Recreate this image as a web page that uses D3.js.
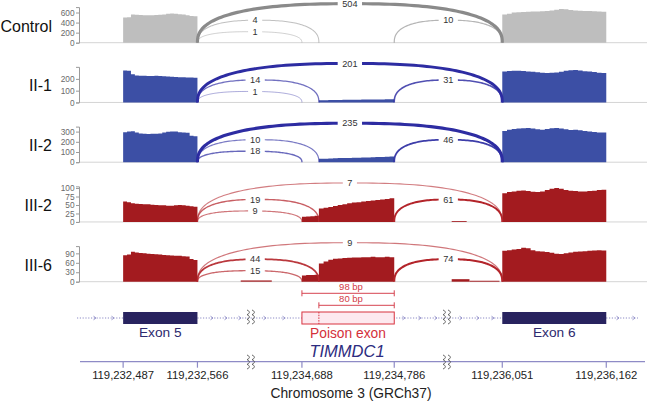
<!DOCTYPE html>
<html><head><meta charset="utf-8">
<script src="https://cdn.jsdelivr.net/npm/d3@7"></script>
<style>body{margin:0;background:#fff}svg{display:block;font-family:"Liberation Sans",Arial,sans-serif}</style>
</head><body><svg id="c" width="647" height="402"></svg>
<script>
// ---------------- data ----------------
const samples = ["Control", "II-1", "II-2", "III-2", "III-6"];
const groups = ["ctrl", "II", "II", "III", "III"];
const yMax = [708, 302, 349, 105, 113];
const yTicks = [[0,200,400,600],[0,100,200],[0,100,200,300],[0,25,50,75,100],[0,30,60,90]];

const exon5 = [119232487, 119232566];
const poison = [119234688, 119234786];
const poisonAlt = 119234706;
const exon6 = [119236051, 119236162];
const axisTicks = [119232487, 119232566, 119234688, 119234786, 119236051, 119236162];
const axisTickLabels = ["119,232,487","119,232,566","119,234,688","119,234,786","119,236,051","119,236,162"];

// coverage (read depth) over exon 5
const covExon5 = [
  [500,505,560,556,550,546,548,545,550,556,562,575,580,576,568,560,548,530,526],
  [272,268,240,228,226,226,225,224,226,224,222,220,218,216,214,213,212,212,210],
  [293,300,303,290,282,278,276,280,278,282,290,298,302,300,294,290,288,260,255],
  [60,58,55,54,53,52,52,51,50,49,49,48,48,49,50,49,48,46,45],
  [84,86,95,93,91,90,89,88,87,86,85,84,83,82,82,81,80,72,69]
];
// coverage over poison exon, 98-bp part upstream of the 80-bp acceptor
const covPoisonA = [[], [], [], [15,16,17,18], [20,21,21,22]];
// coverage over poison exon, 80-bp part
const covPoisonB = [
  [],
  [18,18,20,20,21,22,22,23,23,24,24,25,25,26,27,28],
  [33,34,36,38,40,41,42,43,44,46,47,48,50,52,54,55],
  [40,42,44,47,50,52,55,57,58,60,62,63,65,66,68,70],
  [58,64,70,73,74,75,76,77,77,78,78,79,78,78,79,78]
];
// coverage over exon 6
const covExon6 = [
  [560,575,600,606,612,618,620,622,626,630,640,655,668,664,650,640,634,630,628,626,620,614],
  [262,266,268,269,266,262,260,256,252,250,252,255,260,268,274,275,270,265,262,258,252,250],
  [305,318,326,330,334,336,330,322,318,326,334,336,330,322,316,318,312,305,300,296,292,290],
  [85,88,90,92,93,91,89,88,90,94,98,100,98,94,92,91,90,90,91,92,94,95],
  [98,100,102,104,108,106,100,97,96,94,92,89,88,90,93,95,96,97,98,99,100,99]
];
// small intronic coverage: [start, end, depth]
const covIntron = [
  [], [], [],
  [[119235997, 119236013, 2.5]],
  [[119232612, 119232624, 4], [119234635, 119234656, 4], [119235997, 119236016, 8], [119236016, 119236048, 3]]
];

// junctions: exon5->exon6, exon5->80bp acceptor, exon5->98bp acceptor, poison->exon6
const junctions = [
  [exon5[1], exon6[0]],
  [exon5[1], poisonAlt],
  [exon5[1], poison[0]],
  [poison[1], exon6[0]]
];
const junctionCounts = [
  [504, 4, 1, 10],
  [201, 14, 1, 31],
  [235, 10, 18, 46],
  [7, 19, 9, 61],
  [9, 44, 15, 74]
];

// ---------------- layout / style ----------------
const W = 647, H = 402;
const svg = d3.select("#c");
const xDomain = [119232422, 119232624, 119234635, 119234842, 119235992, 119236198];
const xRange = [62, 252, 252, 447, 447, 640];
const x = d3.scaleLinear().domain(xDomain).range(xRange);
const breaksX = [251, 447];
const axisX = 79;
const panelH = 35.6, base0 = 42.7, panelStep = 59.75;
const arcHeights = [39, 22.5, 11, 22.5];
const fillColor = {ctrl: "#bebebe", II: "#3c4fa5", III: "#a31b1f"};
const arcColor = {ctrl: "#8a8a8a", II: "#2d2ca2", III: "#b3242a"};
const widthScale = d3.scaleSqrt().domain([0, 250]).range([0.7, 3.2]).clamp(true);
const opScale = d3.scaleSqrt().domain([0, 60]).range([0.38, 1]).clamp(true);

function covPoints(start, end, vals) {
  const n = vals.length, step = (end - start) / n;
  const pts = vals.map((v, k) => [start + k * step, v]);
  pts.push([end, vals[n - 1]]);
  return pts;
}

function arcPath(x0, x1, base, h) {
  const cx = (x0 + x1) / 2, a = (x1 - x0) / 2, e = 0.8;
  const pts = d3.range(0, 101).map(k => {
    const t = Math.PI * k / 100;
    const c = Math.cos(t), s = Math.sin(t);
    return [cx - a * Math.sign(c) * Math.pow(Math.abs(c), e), base - h * Math.pow(Math.abs(s), e)];
  });
  return d3.line()(pts);
}

samples.forEach((name, i) => {
  const base = base0 + i * panelStep;
  const g = svg.append("g");
  const y = d3.scaleLinear().domain([0, yMax[i]]).range([base, base - panelH]);
  const grp = groups[i];

  // baseline
  g.append("line").attr("x1", axisX).attr("x2", W).attr("y1", base).attr("y2", base)
    .attr("stroke", "#d4d4d4").attr("stroke-width", 1);

  // y axis
  const ax = g.append("g").attr("transform", `translate(${axisX},0)`)
    .call(d3.axisLeft(y).tickValues(yTicks[i]).tickSize(3).tickPadding(1.5));
  ax.select(".domain").attr("stroke", "#9a9a9a");
  ax.selectAll(".tick line").attr("stroke", "#9a9a9a");
  ax.selectAll("text").attr("fill", "#6a6a6a").style("font-size", "8.3px")
    .style("font-family", '"Liberation Sans",Arial,sans-serif');

  // sample label
  g.append("text").attr("x", 52).attr("y", base - 11).attr("text-anchor", "end")
    .style("font-size", "16px").attr("fill", "#111").text(name);

  // coverage
  const area = d3.area().curve(d3.curveStepAfter).x(d => x(d[0])).y0(base).y1(d => y(d[1]));
  const segs = [];
  segs.push(covPoints(exon5[0], exon5[1], covExon5[i]));
  if (covPoisonA[i].length) segs.push(covPoints(poison[0], poisonAlt, covPoisonA[i]));
  if (covPoisonB[i].length) segs.push(covPoints(poisonAlt, poison[1], covPoisonB[i]));
  segs.push(covPoints(exon6[0], exon6[1], covExon6[i]));
  covIntron[i].forEach(b => segs.push(covPoints(b[0], b[1], [b[2]])));
  segs.forEach(p => g.append("path").attr("d", area(p)).attr("fill", fillColor[grp]));

  // arcs
  const labels = [];
  junctions.forEach((j, k) => {
    const x0 = x(j[0]), x1 = x(j[1]);
    const c = junctionCounts[i][k];
    g.append("path").attr("d", arcPath(x0, x1, base, arcHeights[k]))
      .attr("fill", "none").attr("stroke", arcColor[grp])
      .attr("stroke-width", widthScale(c)).attr("stroke-opacity", opScale(c));
    let lx = (x0 + x1) / 2;
    if (k === 1 || k === 2) lx = (x(junctions[1][0]) + x(junctions[1][1])) / 2 - 3;
    labels.push({lx, ly: base - arcHeights[k], c});
  });
  labels.forEach(l => {
    const t = g.append("text").attr("x", l.lx).attr("y", l.ly).attr("dy", "0.35em")
      .attr("text-anchor", "middle").style("font-size", "9.2px").attr("fill", "#333").text(l.c);
    const w = t.node().getComputedTextLength();
    g.insert("rect", () => t.node()).attr("x", l.lx - w / 2 - 4.5).attr("y", l.ly - 4.5)
      .attr("width", w + 9).attr("height", 9).attr("fill", "#fff");
  });
});

// ---------------- gene model ----------------
const gy = 318;
const gm = svg.append("g");
gm.append("line").attr("x1", 77).attr("x2", 638).attr("y1", gy).attr("y2", gy)
  .attr("stroke", "#8d8bc6").attr("stroke-width", 1).attr("stroke-dasharray", "1.2,1.6");
// direction chevrons
const chevX = [95, 113, 212, 226, 240, 265, 284, 404, 420, 436, 461, 478, 493, 618, 634];
chevX.forEach(cx => {
  gm.append("path").attr("d", `M${cx - 1.5},${gy - 1.8}L${cx + 1},${gy}L${cx - 1.5},${gy + 1.8}`)
    .attr("fill", "none").attr("stroke", "#8d8bc6").attr("stroke-width", 0.9);
});
// exons
[exon5, exon6].forEach(ex => {
  gm.append("rect").attr("x", x(ex[0])).attr("y", gy - 6).attr("width", x(ex[1]) - x(ex[0])).attr("height", 12)
    .attr("fill", "#28235f");
});
gm.append("rect").attr("x", x(poison[0])).attr("y", gy - 6).attr("width", x(poison[1]) - x(poison[0])).attr("height", 12)
  .attr("fill", "#fde9ef").attr("stroke", "#d8323f").attr("stroke-width", 1);
gm.append("line").attr("x1", x(poisonAlt)).attr("x2", x(poisonAlt)).attr("y1", gy - 6).attr("y2", gy + 6)
  .attr("stroke", "#d8323f").attr("stroke-width", 1).attr("stroke-dasharray", "1.5,1.2");

// bp brackets
function bracket(x0, x1, yy, label, ty) {
  gm.append("line").attr("x1", x0).attr("x2", x1).attr("y1", yy).attr("y2", yy).attr("stroke", "#d64450").attr("stroke-width", 1);
  [x0, x1].forEach(xx => gm.append("line").attr("x1", xx).attr("x2", xx).attr("y1", yy - 3).attr("y2", yy + 3)
    .attr("stroke", "#d64450").attr("stroke-width", 1));
  gm.append("text").attr("x", 351).attr("y", ty).attr("text-anchor", "middle")
    .style("font-size", "9.5px").attr("fill", "#d23a45").text(label);
}
bracket(x(poison[0]), x(poison[1]), 293.3, "98 bp", 289.5);
bracket(x(poisonAlt), x(poison[1]), 305.3, "80 bp", 302);

// labels
gm.append("text").attr("x", (x(exon5[0]) + x(exon5[1])) / 2).attr("y", 337).attr("text-anchor", "middle")
  .style("font-size", "13.7px").attr("fill", "#2d2a6e").text("Exon 5");
gm.append("text").attr("x", (x(exon6[0]) + x(exon6[1])) / 2).attr("y", 337).attr("text-anchor", "middle")
  .style("font-size", "13.7px").attr("fill", "#2d2a6e").text("Exon 6");
gm.append("text").attr("x", 348).attr("y", 337.5).attr("text-anchor", "middle")
  .style("font-size", "13.8px").attr("fill", "#d4303a").text("Poison exon");
gm.append("text").attr("x", 347).attr("y", 357).attr("text-anchor", "middle")
  .style("font-size", "16.5px").style("font-style", "italic").attr("fill", "#2d2c80").text("TIMMDC1");

// genomic axis
const axY = 361.7;
gm.append("line").attr("x1", 80).attr("x2", 645).attr("y1", axY).attr("y2", axY)
  .attr("stroke", "#8e8bc6").attr("stroke-width", 1.2);
axisTicks.forEach((t, k) => {
  gm.append("line").attr("x1", x(t)).attr("x2", x(t)).attr("y1", axY).attr("y2", axY + 6)
    .attr("stroke", "#8e8bc6").attr("stroke-width", 1.2);
  gm.append("text").attr("x", x(t)).attr("y", 379).attr("text-anchor", "middle")
    .style("font-size", "11.3px").attr("fill", "#222").text(axisTickLabels[k]);
});
gm.append("text").attr("x", 351).attr("y", 397.5).attr("text-anchor", "middle")
  .style("font-size", "13.8px").attr("fill", "#222").text("Chromosome 3 (GRCh37)");

// break marks
function squiggle(cx, y0, len) {
  const seg = len / 3;
  let d = `M${cx},${y0}`;
  for (let k = 0; k < 3; k++) {
    d += `c3.2,${seg * 0.3} 3.2,${seg * 0.7} 0,${seg}`;
  }
  return d;
}
breaksX.forEach(bx => {
  [bx - 4, bx + 1].forEach(sx => {
    gm.append("path").attr("d", squiggle(sx, 310, 14)).attr("fill", "none").attr("stroke", "#555").attr("stroke-width", 0.9);
    gm.append("path").attr("d", squiggle(sx, 355, 14)).attr("fill", "none").attr("stroke", "#555").attr("stroke-width", 0.9);
  });
});
</script></body></html>
